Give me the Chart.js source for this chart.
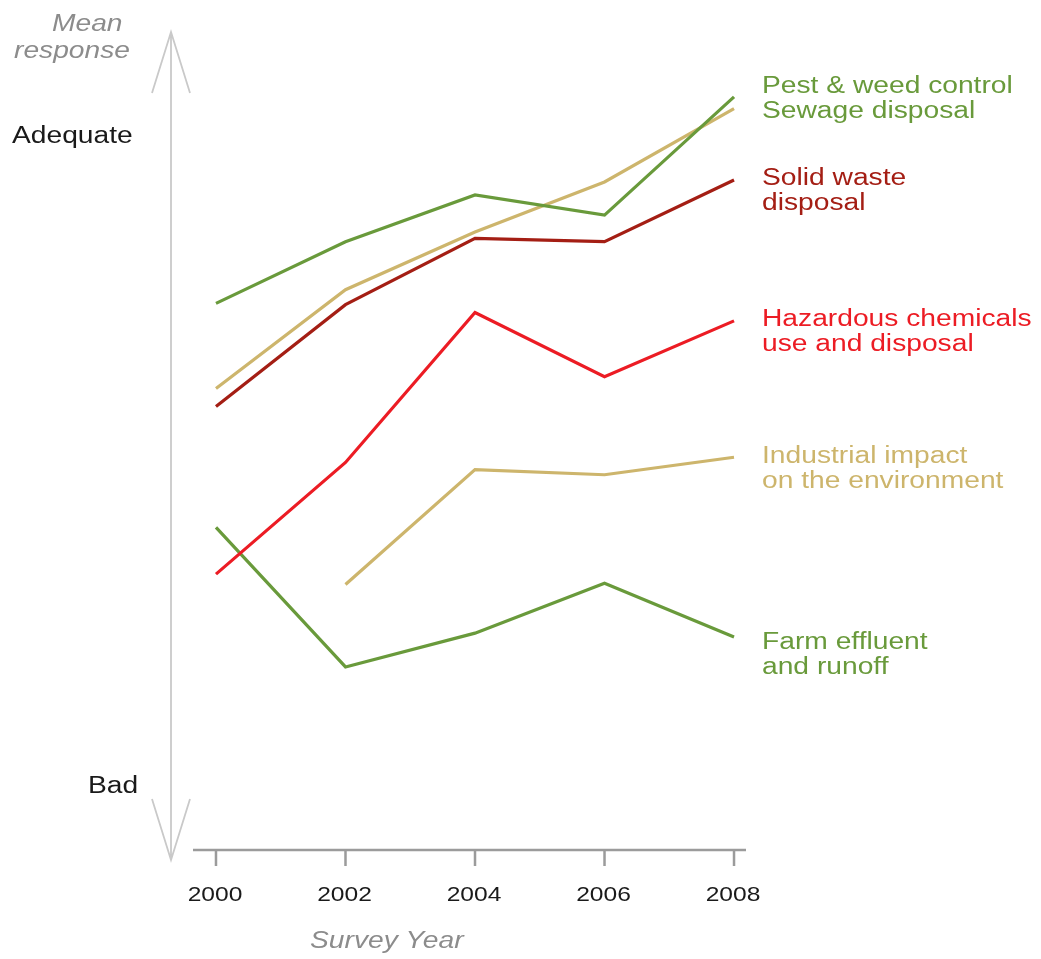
<!DOCTYPE html>
<html>
<head>
<meta charset="utf-8">
<script src="https://cdn.jsdelivr.net/npm/chart.js@4/dist/chart.umd.min.js"></script>
<style>
  body { margin: 0; background: #fff; }
  canvas { display: block; }
</style>
</head>
<body>
<canvas id="survey-chart" width="1041" height="959"></canvas>
<script>
// Survey data, mean response (Bad = 0, Adequate = 10)
const years = [2000, 2002, 2004, 2006, 2008];
const pestWeed = [7.42, 8.37, 9.09, 8.78, 10.6];
const sewage = [6.11, 7.63, 8.52, 9.29, 10.42];
const solidWaste = [5.83, 7.4, 8.42, 8.37, 9.32];
const hazardous = [3.25, 4.97, 7.28, 6.29, 7.15];
const industrial = [null, 3.09, 4.86, 4.78, 5.05];
const farmEffluent = [3.97, 1.82, 2.34, 3.11, 2.28];

const GREEN = '#699a3b';
const TAN = '#cdb56c';
const DARK_RED = '#a41e14';
const RED = '#ec1c24';
const FONT = '"Liberation Sans", Arial, sans-serif';
const STRETCH = 1.2;

function toPoints(values) {
    return years.map((yr, i) => ({ x: yr, y: values[i] }));
}

function line(label, values, color) {
    return {
        label: label,
        data: toPoints(values),
        borderColor: color,
        borderWidth: 3.2,
        pointRadius: 0,
        spanGaps: false,
        tension: 0
    };
}

// draw text slightly widened, like the original artwork
function wideText(ctx, text, x, y, align) {
    ctx.save();
    ctx.translate(x, y);
    ctx.scale(STRETCH, 1);
    ctx.textAlign = align || 'left';
    ctx.fillText(text, 0, 0);
    ctx.restore();
}

const decorations = {
    id: 'decorations',
    afterDraw(chart) {
        const ctx = chart.ctx;
        const xs = chart.scales.x;
        const ys = chart.scales.y;
        const area = chart.chartArea;

        // vertical double arrow
        const ax = 171;
        const top = area.top;
        const bottom = area.bottom + 10;
        ctx.save();
        ctx.strokeStyle = '#c9c9c9';
        ctx.lineWidth = 1.8;
        ctx.beginPath();
        ctx.moveTo(ax, top);
        ctx.lineTo(ax, bottom);
        ctx.moveTo(ax - 19, top + 61);
        ctx.lineTo(ax, top);
        ctx.lineTo(ax + 19, top + 61);
        ctx.moveTo(ax - 19, bottom - 61);
        ctx.lineTo(ax, bottom);
        ctx.lineTo(ax + 19, bottom - 61);
        ctx.stroke();

        // x axis line and ticks
        ctx.strokeStyle = '#9b9b9b';
        ctx.lineWidth = 2.5;
        ctx.beginPath();
        ctx.moveTo(area.left, area.bottom);
        ctx.lineTo(area.right, area.bottom);
        years.forEach(yr => {
            const px = xs.getPixelForValue(yr);
            ctx.moveTo(px, area.bottom);
            ctx.lineTo(px, area.bottom + 16);
        });
        ctx.stroke();

        // year labels
        ctx.fillStyle = '#1a1a1a';
        ctx.font = '20.5px ' + FONT;
        years.forEach(yr => {
            wideText(ctx, String(yr), xs.getPixelForValue(yr) - 1, 901, 'center');
        });

        // axis titles
        ctx.fillStyle = '#8c8c8c';
        ctx.font = 'italic 23.5px ' + FONT;
        wideText(ctx, 'Mean', 52, 31);
        wideText(ctx, 'response', 14, 58);
        wideText(ctx, 'Survey Year', 310, 948);

        ctx.fillStyle = '#1a1a1a';
        ctx.font = '23.5px ' + FONT;
        wideText(ctx, 'Adequate', 12, ys.getPixelForValue(10) + 7);
        wideText(ctx, 'Bad', 88, ys.getPixelForValue(0) + 8);

        // series labels on the right
        const labels = [
            { lines: ['Pest & weed control', 'Sewage disposal'], color: GREEN, y: 93 },
            { lines: ['Solid waste', 'disposal'], color: DARK_RED, y: 185 },
            { lines: ['Hazardous chemicals', 'use and disposal'], color: RED, y: 326 },
            { lines: ['Industrial impact', 'on the environment'], color: TAN, y: 463 },
            { lines: ['Farm effluent', 'and runoff'], color: GREEN, y: 649 }
        ];
        ctx.font = '23.5px ' + FONT;
        labels.forEach(l => {
            ctx.fillStyle = l.color;
            l.lines.forEach((t, i) => wideText(ctx, t, 762, l.y + i * 25));
        });
        ctx.restore();
    }
};

const ctx = document.getElementById('survey-chart').getContext('2d');
const surveyChart = new Chart(ctx, {
    type: 'line',
    data: {
        datasets: [
            line('Pest & weed control', pestWeed, GREEN),
            line('Sewage disposal', sewage, TAN),
            line('Solid waste disposal', solidWaste, DARK_RED),
            line('Hazardous chemicals use and disposal', hazardous, RED),
            line('Industrial impact on the environment', industrial, TAN),
            line('Farm effluent and runoff', farmEffluent, GREEN)
        ]
    },
    options: {
        responsive: false,
        animation: false,
        layout: {
            padding: { left: 193, right: 295, top: 32, bottom: 109 }
        },
        scales: {
            x: { type: 'linear', display: false, min: 1999.645, max: 2008.185 },
            y: { type: 'linear', display: false, min: -1, max: 11.6 }
        },
        plugins: {
            legend: { display: false },
            tooltip: { enabled: false }
        }
    },
    plugins: [decorations]
});
</script>
</body>
</html>
